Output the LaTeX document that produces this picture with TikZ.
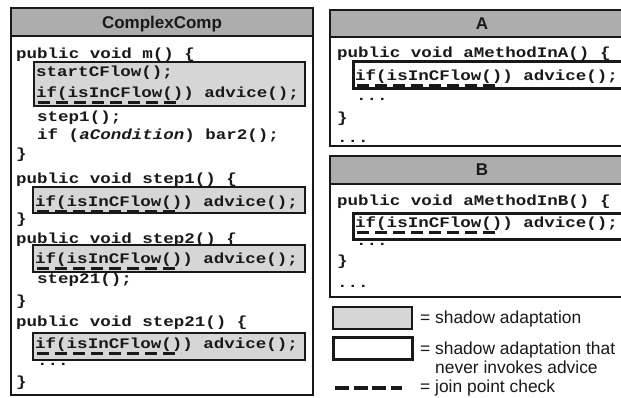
\documentclass[tikz,border=0pt]{standalone}
\usepackage{fontspec}
\setmainfont{Liberation Sans}
\newfontfamily\codefont{Liberation Mono}[FakeStretch=1.2]
\usetikzlibrary{calc}
\definecolor{ink}{gray}{0.1}
\definecolor{headgray}{gray}{0.68}
\definecolor{shadegray}{gray}{0.84}
\tikzset{
  code/.style={font=\codefont\bfseries\fontsize{14.6}{14.6}\selectfont, anchor=base west, inner sep=0pt, text=ink},
  head/.style={font=\bfseries\fontsize{17}{17}\selectfont, inner sep=0pt, anchor=base, text=ink},
  legendtext/.style={font=\fontsize{17.4}{17.4}\selectfont, inner sep=0pt, anchor=base west, text=ink},
  outerbox/.style={draw=ink, line width=1.6pt},
  headbar/.style={fill=headgray, draw=ink, line width=1.6pt},
  shadowbox/.style={fill=shadegray, draw=ink, line width=1.4pt},
  noadvice/.style={fill=white, draw=ink, line width=3pt},
  jpcheck/.style={draw=ink, line width=3pt, dash pattern=on 12pt off 6pt},
}
\begin{document}
\begin{tikzpicture}[x=1pt,y=-1pt]
\useasboundingbox (0,0) rectangle (621,397);
\clip (0,0) rectangle (621,397);
\fill[white] (0,0) rectangle (621,397);

% ---- class ComplexComp ----
\draw[headbar] (11,8) rectangle (313,36);
\draw[outerbox] (11,8) rectangle (313,395);
\node[head] (cc) at (162,28) {ComplexComp};

\draw[shadowbox] (34,62) rectangle (305,106);
\draw[shadowbox] (33,187) rectangle (305,213);
\draw[shadowbox] (33,245) rectangle (305,272);
\draw[shadowbox] (33,333) rectangle (305,360);

\node[code] (m0) at (16,58) {public void m() \{};
\node[code] (m1) at (36,76) {startCFlow();};
\node[code] (m2) at (36,97) {if(isInCFlow()) advice();};
\node[code] (m3) at (37,121) {step1();};
\node[code] (m4) at (37,139) {if (\textit{aCondition}) bar2();};
\node[code] (m5) at (16,158) {\}};
\node[code] (s0) at (16,183) {public void step1() \{};
\node[code] (s1) at (35,206) {if(isInCFlow()) advice();};
\node[code] (s2) at (16,223) {\}};
\node[code] (t0) at (16,243) {public void step2() \{};
\node[code] (t1) at (35,263) {if(isInCFlow()) advice();};
\node[code] (t2) at (37,283) {step21();};
\node[code] (t3) at (16,305) {\}};
\node[code] (u0) at (16,326) {public void step21() \{};
\node[code] (u1) at (35,348) {if(isInCFlow()) advice();};
\node[code] (u2) at (37,365) {...};
\node[code] (u3) at (16,386) {\}};

\foreach \n in {m2,s1,t1,u1}
  \draw[jpcheck] ($(\n.base west)+(2,5)$) -- ++(144,0);

% ---- class A ----
\draw[headbar] (330,10) rectangle (634,37);
\draw[outerbox] (330,10) rectangle (634,146);
\node[head] (ha) at (482,29) {A};
\draw[noadvice] (353,61) rectangle (640,88);
\node[code] (a0) at (337,57) {public void aMethodInA() \{};
\node[code] (a1) at (355,80) {if(isInCFlow()) advice();};
\node[code] (a2) at (356,100) {...};
\node[code] (a3) at (337,122) {\}};
\node[code] (a4) at (337,142) {...};

% ---- class B ----
\draw[headbar] (330,156) rectangle (634,184);
\draw[outerbox] (330,156) rectangle (634,297);
\node[head] (hb) at (482,175) {B};
\draw[noadvice] (353,213) rectangle (640,239);
\node[code] (b0) at (337,205) {public void aMethodInB() \{};
\node[code] (b1) at (355,227) {if(isInCFlow()) advice();};
\node[code] (b2) at (356,245) {...};
\node[code] (b3) at (337,265) {\}};
\node[code] (b4) at (337,287) {...};

\foreach \n in {a1,b1}
  \draw[jpcheck] ($(\n.base west)+(2,5)$) -- ++(144,0);

% ---- legend ----
\draw[shadowbox] (333,307) rectangle (412,329);
\draw[noadvice] (333,337) rectangle (412,359);
\coordinate (ds) at (335,388);
\coordinate (de) at (402,388);
\draw[jpcheck, line width=4pt, dash pattern=on 14pt off 4.5pt] (ds) -- (de);
\node[legendtext] (l1) at (420,323) {= shadow adaptation};
\node[legendtext] (l2) at (420,354) {= shadow adaptation that};
\node[legendtext] (l3) at (435,373) {never invokes advice};
\node[legendtext] (l4) at (420,392) {= join point check};
\end{tikzpicture}
\end{document}
